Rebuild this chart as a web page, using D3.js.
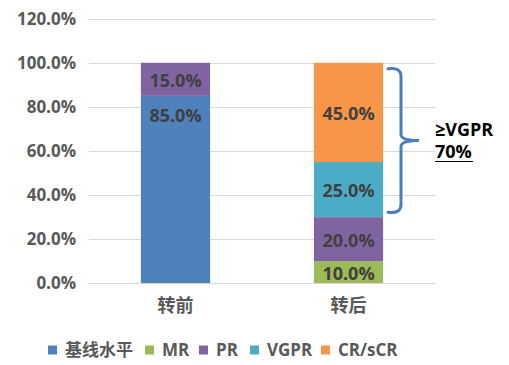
<!DOCTYPE html>
<html><head><meta charset="utf-8">
<script src="https://cdn.jsdelivr.net/npm/d3@7"></script>
<style>
body{margin:0;background:#fff;}
text{font-family:"Open Sans","Noto Sans CJK SC",sans-serif;font-weight:700;}
</style></head>
<body><svg id="c" width="509" height="365"></svg>
<script>
const categories = ["转前", "转后"];
const seriesNames = ["基线水平", "MR", "PR", "VGPR", "CR/sCR"];
const seriesColors = ["#4f81bd", "#9bbb59", "#8064a2", "#4bacc6", "#f79646"];
const baseline = [85, 0];
const mr = [0, 10];
const pr = [15, 20];
const vgpr = [0, 25];
const crscr = [0, 45];
const yTicks = [0, 20, 40, 60, 80, 100, 120];
const bracketLabel = ["≥VGPR", "70%"];

const values = [baseline, mr, pr, vgpr, crscr];
const rows = categories.map((c, i) => {
  const r = {cat: c};
  seriesNames.forEach((s, j) => r[s] = values[j][i]);
  return r;
});
const stack = d3.stack().keys(seriesNames)(rows);

const svg = d3.select("#c");
const x = d3.scaleBand().domain(categories).range([89, 435]).paddingInner(0.6).paddingOuter(0.3);
const y = d3.scaleLinear().domain([0, 120]).range([283.3, 18.7]);

// gridlines
svg.append("g").selectAll("line").data(yTicks).join("line")
  .attr("x1", 89).attr("x2", 435)
  .attr("y1", d => Math.round(y(d)) + 0.5).attr("y2", d => Math.round(y(d)) + 0.5)
  .attr("stroke", "#d9d9d9").attr("stroke-width", 1);

// y axis labels
svg.append("g").selectAll("text").data(yTicks).join("text")
  .attr("x", 76).attr("y", d => y(d)).attr("dy", "0.35em")
  .attr("text-anchor", "end").attr("fill", "#595959").attr("font-size", 17)
  .text(d => d.toFixed(1) + "%");

// bars
stack.forEach((layer, j) => {
  const g = svg.append("g").attr("fill", seriesColors[j]);
  g.selectAll("rect").data(layer.filter(d => d[1] - d[0] > 0)).join("rect")
    .attr("x", d => x(d.data.cat))
    .attr("width", x.bandwidth())
    .attr("y", d => y(d[1]))
    .attr("height", d => y(d[0]) - y(d[1]));
});

// data labels
stack.forEach((layer, j) => {
  svg.append("g").selectAll("text").data(layer.filter(d => d[1] - d[0] > 0)).join("text")
    .attr("x", d => x(d.data.cat) + x.bandwidth() / 2)
    .attr("y", d => {
      if (seriesNames[j] === "基线水平") return y(d[1]) + 20;
      return y((d[0] + d[1]) / 2) + 1;
    })
    .attr("dy", "0.35em")
    .attr("text-anchor", "middle").attr("fill", "#404040").attr("font-size", 18)
    .text(d => (d[1] - d[0]).toFixed(1) + "%");
});

// x axis line
svg.append("line").attr("x1", 89).attr("x2", 435)
  .attr("y1", Math.round(y(0)) + 0.5).attr("y2", Math.round(y(0)) + 0.5)
  .attr("stroke", "#d9d9d9");

// category labels
svg.append("g").selectAll("text").data(categories).join("text")
  .attr("x", d => x(d) + x.bandwidth() / 2).attr("y", 312)
  .attr("text-anchor", "middle").attr("fill", "#595959").attr("font-size", 18)
  .text(d => d);

// bracket over VGPR + CR/sCR on second bar
const bTop = y(100) + 6, bBot = y(30) - 5, bMid = (bTop + bBot) / 2;
const bx = 401;
const path = `M388,${bTop} Q401,${bTop-2} ${bx},${bTop+8} L${bx},${bMid-6} Q${bx},${bMid} 419,${bMid} Q${bx},${bMid} ${bx},${bMid+6} L${bx},${bBot-8} Q401,${bBot+2} 388,${bBot}`;
svg.append("path").attr("d", path).attr("fill", "none")
  .attr("stroke", "#4a7ebb").attr("stroke-width", 3).attr("stroke-linecap", "round");

svg.append("text").attr("x", 435).attr("y", 136).attr("fill", "#000").attr("font-size", 18).text(bracketLabel[0]);
svg.append("text").attr("x", 435).attr("y", 158).attr("fill", "#000").attr("font-size", 18).text(bracketLabel[1]);
svg.append("line").attr("x1", 435).attr("x2", 473).attr("y1", 161.5).attr("y2", 161.5).attr("stroke", "#000").attr("stroke-width", 1.2);

// legend
const legendX = [48, 145, 199, 250, 321];
const lg = svg.append("g").selectAll("g").data(seriesNames).join("g")
  .attr("transform", (d, i) => `translate(${legendX[i]},350)`);
lg.append("rect").attr("x", 0).attr("y", -4.5).attr("width", 9).attr("height", 9).attr("fill", (d, i) => seriesColors[i]);
lg.append("text").attr("x", 17).attr("y", 0).attr("dy", "0.35em").attr("fill", "#595959").attr("font-size", 17).text(d => d);
</script></body></html>
